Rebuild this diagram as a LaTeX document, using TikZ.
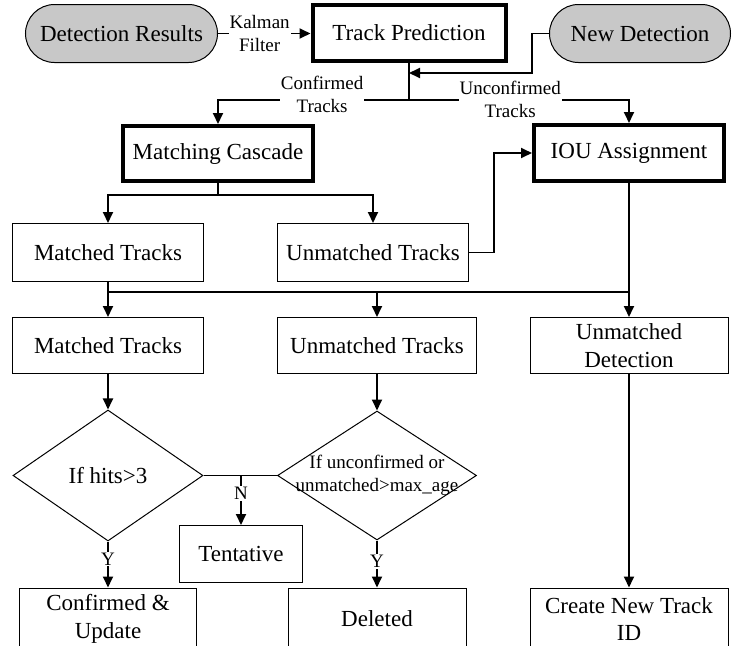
\documentclass[tikz,border=0pt]{standalone}
\usepackage{fontspec}
\setmainfont{LiberationSerif}[Extension=.ttf, UprightFont=*-Regular, BoldFont=*-Bold, ItalicFont=*-Italic, BoldItalicFont=*-BoldItalic]
\usetikzlibrary{arrows.meta,shapes.geometric}
\definecolor{pillgray}{RGB}{200,200,200}
\begin{document}
\begin{tikzpicture}[x=1pt,y=-1pt,
  every node/.style={font=\fontsize{23}{27.6}\selectfont, align=center, inner sep=0pt},
  box/.style={draw, line width=1pt},
  heavy/.style={draw, line width=4pt},
  pill/.style={draw, line width=1pt, fill=pillgray, rounded corners=29pt},
  dia/.style={draw, line width=1pt, shape=diamond},
  lbl/.style={fill=white, font=\fontsize{19}{23}\selectfont, inner sep=1pt},
  small/.style={font=\fontsize{19}{23}\selectfont},
  conn/.style={line width=1.8pt},
  arr/.style={conn, -{Triangle[length=11pt,width=10pt]}},
]
\useasboundingbox (0,0) rectangle (732,646);

% top row
\node[pill, minimum width=192pt, minimum height=58pt] (DR) at (121.5,33.5) {Detection Results};
\node[heavy, minimum width=193pt, minimum height=56pt] (TP) at (409,33) {Track Prediction};
\node[pill, minimum width=181pt, minimum height=58pt] (ND) at (640,33.5) {New Detection};

% association stages
\node[heavy, minimum width=190pt, minimum height=55pt] (MC) at (218,153.5) {Matching Cascade};
\node[heavy, minimum width=190pt, minimum height=56pt] (IOU) at (629,153) {IOU Assignment};

% first result row
\node[box, minimum width=191pt, minimum height=58pt] (MT1) at (108,252.5) {Matched Tracks};
\node[box, minimum width=191pt, minimum height=58pt] (UT1) at (373,252.5) {Unmatched Tracks};

% second result row
\node[box, minimum width=191pt, minimum height=56pt] (MT2) at (108,345.5) {Matched Tracks};
\node[box, minimum width=199pt, minimum height=56pt] (UT2) at (377,345.5) {Unmatched Tracks};
\node[box, minimum width=198pt, minimum height=56pt] (UD) at (629,345.5) {Unmatched\\Detection};

% decisions
\node[dia, minimum width=190pt, minimum height=131pt] (D1) at (108,475.5) {};
\node (D1t) at (D1) {If hits>3};
\node[dia, minimum width=199pt, minimum height=129pt] (D2) at (377,475.5) {};
\node[small] (D2t) at (D2) {If unconfirmed or\\unmatched>max\_age};

% outcomes
\node[box, minimum width=123pt, minimum height=57pt] (TE) at (241,554) {Tentative};
\node[box, minimum width=177pt, minimum height=62pt] (CU) at (108,619) {Confirmed \&\\Update};
\node[box, minimum width=178pt, minimum height=62pt] (DE) at (377,619) {Deleted};
\node[box, minimum width=198pt, minimum height=62pt] (CN) at (629,619) {Create New Track\\ID};

% junction points
\coordinate (s) at (409,100);
\coordinate (t) at (409,73);
\coordinate (m) at (218,195);
\coordinate (b) at (629,292);

% connectors
\draw[arr] (DR.east) -- node[lbl, pos=0.45] {Kalman\\Filter} (DR.east -| TP.west);
\draw[conn] (TP.south) -- (s);
\draw[arr] (ND.west) -- ++(-17,0) |- (t);
\draw[arr] (s) -- node[lbl, pos=0.455, yshift=6pt] {Confirmed\\Tracks} (s -| MC.north) -- (MC.north);
\draw[arr] (s) -- node[lbl, pos=0.46, yshift=1pt] {Unconfirmed\\Tracks} (s -| IOU.north) -- (IOU.north);

\draw[conn] (MC.south) -- (m);
\draw[arr] (m) -| (MT1.north);
\draw[arr] (m) -| (UT1.north);
\draw[arr] (UT1.east) -- ++(25,0) |- (IOU.west);

\draw[conn] (IOU.south) -- (b);
\draw[conn] (MT1.south) -- (MT1.south |- b);
\draw[arr] (b) -| (MT2.north);
\draw[arr] (b) -| (UT2.north);
\draw[arr] (b) -- (UD.north);

\draw[arr] (MT2) -- (D1);
\draw[arr] (UT2) -- (D2);
\draw[conn] (D1.east) -- (D2.west);
\draw[arr] (TE.north |- D1.east) -- node[lbl, pos=0.36] {N} (TE.north);
\draw[arr] (D1.south) -- node[lbl, pos=0.38] {Y} (CU.north);
\draw[arr] (D2.south) -- node[lbl, pos=0.45] {Y} (DE.north);
\draw[arr] (UD) -- (CN);
\end{tikzpicture}
\end{document}
